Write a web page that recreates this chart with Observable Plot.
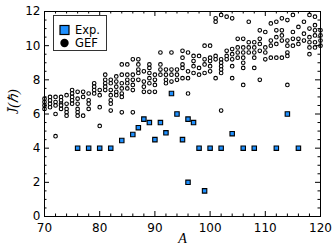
<!DOCTYPE html>
<html><head><meta charset="utf-8">
<script src="https://cdn.jsdelivr.net/npm/d3@7"></script>
<script src="https://cdn.jsdelivr.net/npm/@observablehq/plot@0.6"></script>
<style>body{margin:0;background:#fff}#chart{position:relative;width:333px;height:246px}</style>
</head><body><div id="chart"></div>
<script>
const expA = [76,78,80,82,84,86,87,88,89,90,91,92,93,94,95,96,96,97,98,99,100,102,104,106,108,112,114,116];
const expJ = [4,4,4,4,4.45,4.8,5.2,5.7,5.5,4.5,5.5,4.9,7.2,6.0,4.5,5.7,2.0,5.5,4,1.5,4,4,4.85,4,4,4,6,4];

const gefColumns = [
  [70,[6.5,6.7,6.9,6.3]],
  [71,[6.4,6.6,6.8,7.0]],
  [72,[7.0,6.7,6.5,6.0,4.7]],
  [73,[7.0,6.8,6.6,6.5,6.3]],
  [74,[7.1,6.6,6.3,6.1,5.9]],
  [75,[7.4,7.2,7.0,6.8,6.6]],
  [76,[7.3,6.9,6.6,6.3,6.1,5.9]],
  [77,[7.3,7.0,5.9]],
  [78,[7.2,6.8,6.6,6.3]],
  [79,[7.8,7.6,7.4,7.2]],
  [80,[7.4,7.1,6.4,5.3]],
  [81,[8.3,8.0,7.8,7.6,7.4]],
  [82,[8.0,7.8,7.4,7.1,6.8,6.6,6.2]],
  [83,[8.2,7.9,7.6,7.3,7.1]],
  [84,[8.9,8.3,7.8,7.5,7.2,7.0,6.1]],
  [85,[8.9,8.3,8.0,7.8,7.5]],
  [86,[9.2,8.3,8.0,7.7,7.4,6.1]],
  [87,[9.2,8.9,8.6,8.4,8.0]],
  [88,[8.5,7.9,7.6,7.3]],
  [89,[8.9,8.7,8.4,8.1,7.8,7.3]],
  [90,[8.3,8.0,7.7,7.3]],
  [91,[9.6,8.9,8.6,8.3]],
  [92,[8.6,8.3,8.0,7.8]],
  [93,[9.6,8.6,8.3,7.9]],
  [94,[8.6,8.3,8.0]],
  [95,[9.7,9.3,8.9,8.7,8.1]],
  [96,[9.6,8.5,8.1,7.2]],
  [97,[9.4,9.1,8.8,8.4]],
  [98,[9.4,8.7,8.3]],
  [99,[10.0,9.2,8.9,8.4]],
  [100,[10.0,9.3,9.1,8.8,8.5]],
  [101,[11.6,11.4,9.4,9.2,8.1]],
  [102,[11.8,9.2,9.0,8.8,8.6,8.4,6.2]],
  [103,[11.7,9.7,9.4,9.2]],
  [104,[11.6,9.8,9.5,9.2,8.8,8.1]],
  [105,[10.4,9.9,9.6,9.3]],
  [106,[10.4,9.9,9.6,9.3,9.0,8.7,7.7]],
  [107,[11.4,10.2,9.9,9.6]],
  [108,[10.2,9.9,9.6,9.3,8.7]],
  [109,[10.9,10.4,10.1,9.7,8.0]],
  [110,[10.8,9.9,9.6,9.2]],
  [111,[11.3,10.3,10.0,9.3]],
  [112,[11.4,10.9,10.5,10.1,9.3]],
  [113,[11.6,10.9,10.6,10.3,9.3]],
  [114,[11.5,10.3,10.0,9.6,9.4,7.7]],
  [115,[11.8,10.8,10.4,10.0]],
  [116,[11.1,10.4,10.1]],
  [117,[11.4,10.7,10.3]],
  [118,[11.8,11.0,10.5,10.2,9.9,9.5]],
  [119,[11.7,11.2,10.9,10.6,10.2,9.9]],
  [120,[10.9,10.6,10.3,10.0]]
];

const xTicks = [70,80,90,100,110,120];
const xMinor = [72,74,76,78,82,84,86,88,92,94,96,98,102,104,106,108,112,114,116,118];
const yTicks = [0,2,4,6,8,10,12];
const yMinor = [0.5,1,1.5,2.5,3,3.5,4.5,5,5.5,6.5,7,7.5,8.5,9,9.5,10.5,11,11.5];

const expData = expA.map((a,i)=>({A:a, J:expJ[i]}));
const gefData = gefColumns.flatMap(([a,js])=>js.map(j=>({A:a, J:j})));

const W=333, H=246, mL=44, mR=13, mT=11, mB=30;
const ph = H-mT-mB, pw = W-mL-mR;
const majL=5, minL=2.5;

const plot = Plot.plot({
  width: W, height: H,
  marginLeft: mL, marginRight: mR, marginTop: mT, marginBottom: mB,
  style: {fontFamily: "DejaVu Sans", fontSize: "12px", background: "#fff", color: "#000"},
  x: {domain: [70,120]},
  y: {domain: [0,12]},
  marks: [
    Plot.dot(gefData, {x:"A", y:"J", r:1.8, fill:"white", stroke:"black", strokeWidth:1.1}),
    Plot.dot(expData, {x:"A", y:"J", symbol:"square", r:2.5, fill:"#1e90ff", stroke:"black", strokeWidth:1.1}),
    Plot.frame({stroke:"black", strokeWidth:1}),
    Plot.tickX(xTicks, {x:d=>d, insetTop: ph-majL, stroke:"black"}),
    Plot.tickX(xTicks, {x:d=>d, insetBottom: ph-majL, stroke:"black"}),
    Plot.tickX(xMinor, {x:d=>d, insetTop: ph-minL, stroke:"black"}),
    Plot.tickX(xMinor, {x:d=>d, insetBottom: ph-minL, stroke:"black"}),
    Plot.tickY(yTicks, {y:d=>d, insetRight: pw-majL, stroke:"black"}),
    Plot.tickY(yTicks, {y:d=>d, insetLeft: pw-majL, stroke:"black"}),
    Plot.tickY(yMinor, {y:d=>d, insetRight: pw-minL, stroke:"black"}),
    Plot.tickY(yMinor, {y:d=>d, insetLeft: pw-minL, stroke:"black"}),
    Plot.axisX({ticks: xTicks, tickSize: 0, tickPadding: 7, label: null, fontSize: 12}),
    Plot.axisY({ticks: yTicks, tickSize: 0, tickPadding: 4, label: null, fontSize: 12}),
    Plot.text(["A"], {frameAnchor:"bottom", dy: 22, text:d=>d, fontFamily:"Liberation Serif", fontStyle:"italic", fontSize:14, lineAnchor:"middle"}),
    Plot.text(["J\u0304(\u210F)"], {frameAnchor:"left", dx:-31, rotate:-90, text:d=>d, fontFamily:"Liberation Serif", fontStyle:"italic", fontSize:14, lineAnchor:"middle"})
  ]
});
document.getElementById("chart").append(plot);

// legend
const svg = d3.select(plot);
const g = svg.append("g").attr("text-anchor","start");
g.append("rect").attr("x",53.5).attr("y",15.5).attr("width",53).attr("height",35).attr("fill","white").attr("stroke","#333").attr("stroke-width",1);
g.append("rect").attr("x",60).attr("y",25.5).attr("width",9).attr("height",9).attr("fill","#1e90ff").attr("stroke","black").attr("stroke-width",1.2);
g.append("circle").attr("cx",64.5).attr("cy",43).attr("r",4.2).attr("fill","black");
g.append("text").attr("x",75).attr("y",30).attr("dy","0.35em").attr("font-size",11.5).attr("font-family","DejaVu Sans").attr("text-anchor","start").text("Exp.");
g.append("text").attr("x",75).attr("y",43).attr("dy","0.35em").attr("font-size",11.5).attr("font-family","DejaVu Sans").attr("text-anchor","start").text("GEF");
</script></body></html>
